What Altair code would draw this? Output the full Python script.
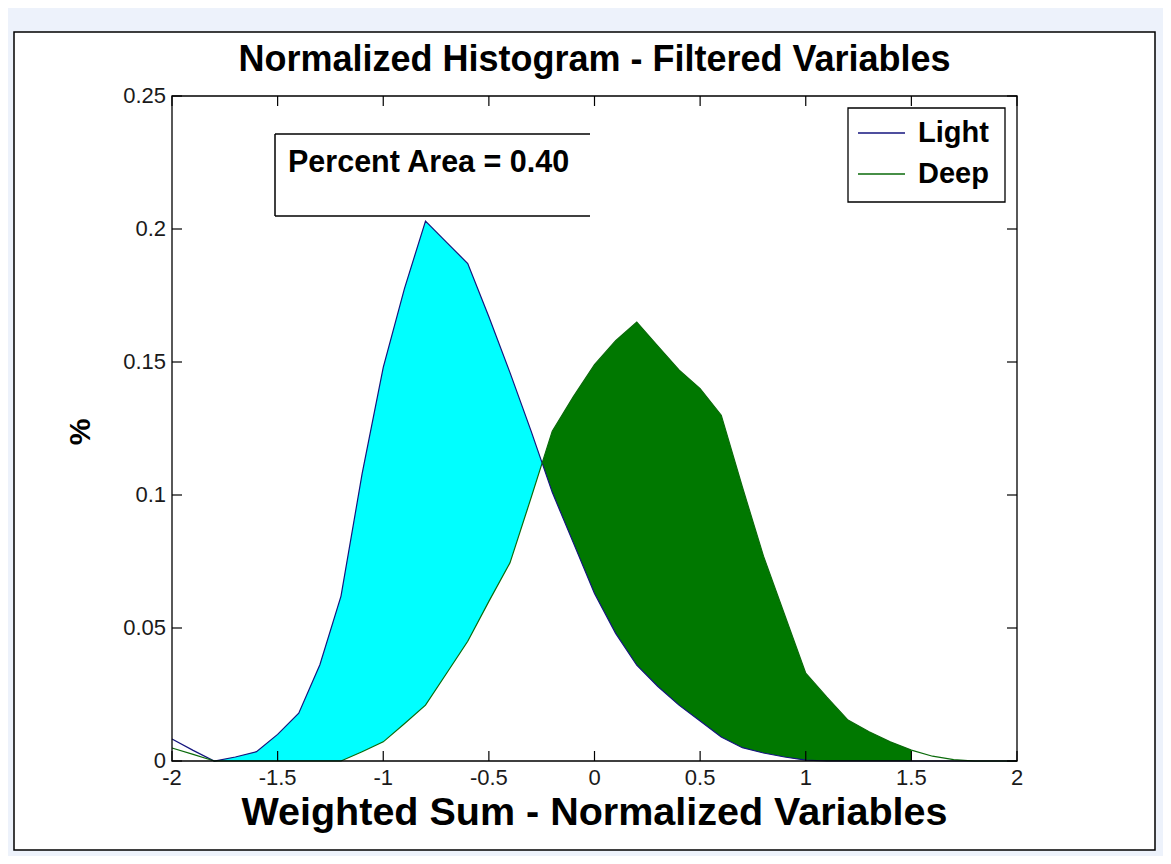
import altair as alt
import numpy as np
import pandas as pd

# ---------------- data ----------------
x_vals = [-2.0, -1.9, -1.8, -1.7, -1.6, -1.5, -1.4, -1.3, -1.2, -1.1,
          -1.0, -0.9, -0.8, -0.7, -0.6, -0.5, -0.4, -0.3, -0.2, -0.1,
          0.0, 0.1, 0.2, 0.3, 0.4, 0.5, 0.6, 0.7, 0.8, 0.9,
          1.0, 1.1, 1.2, 1.3, 1.4, 1.5, 1.6, 1.7, 1.8, 1.9, 2.0]
light_vals = [0.0083, 0.0040, 0.0000, 0.0015, 0.0035, 0.0100, 0.0180, 0.0362, 0.0620, 0.1080,
              0.1480, 0.1775, 0.2030, 0.1950, 0.1870, 0.1670, 0.1460, 0.1240, 0.1010, 0.0820,
              0.0630, 0.0480, 0.0360, 0.0280, 0.0210, 0.0150, 0.0090, 0.0050, 0.0030, 0.0015,
              0.0003, 0.0000, 0.0000, 0.0000, 0.0000, 0.0000, 0.0000, 0.0000, 0.0000, 0.0000, 0.0000]
deep_vals = [0.0049, 0.0025, 0.0000, 0.0000, 0.0000, 0.0000, 0.0000, 0.0000, 0.0000, 0.0035,
             0.0072, 0.0140, 0.0210, 0.0330, 0.0450, 0.0600, 0.0745, 0.0990, 0.1240, 0.1370,
             0.1490, 0.1580, 0.1650, 0.1560, 0.1470, 0.1400, 0.1300, 0.1030, 0.0770, 0.0550,
             0.0330, 0.0240, 0.0154, 0.0110, 0.0072, 0.0041, 0.0018, 0.0005, 0.0000, 0.0000, 0.0000]
series_names = ["Light", "Deep"]
x_ticks = [-2, -1.5, -1, -0.5, 0, 0.5, 1, 1.5, 2]
x_tick_labels = ["-2", "-1.5", "-1", "-0.5", "0", "0.5", "1", "1.5", "2"]
y_ticks = [0, 0.05, 0.1, 0.15, 0.2, 0.25]
y_tick_labels = ["0", "0.05", "0.1", "0.15", "0.2", "0.25"]
fill_range = [-1.8, 1.5]

title_text = "Normalized Histogram - Filtered Variables"
x_title = "Weighted Sum - Normalized Variables"
y_title = "%"
note_text = "Percent Area = 0.40"

# ---------------- styling ----------------
FONT = "Liberation Sans, Arial, Helvetica, sans-serif"
W, H = 845, 665
LIGHT_C = "#14147e"
DEEP_C = "#0a6a0a"
CYAN = "#00ffff"
GREEN = "#007800"
BG = "#edf2fb"

# ---------------- derived tables ----------------
n = len(x_vals)
line_df = pd.DataFrame({
    "x": x_vals * 2,
    "y": light_vals + deep_vals,
    "series": [series_names[0]] * n + [series_names[1]] * n,
})

xa = np.array(x_vals)
La = np.array(light_vals)
Da = np.array(deep_vals)
rows = []
for i in range(n):
    if fill_range[0] - 1e-9 <= xa[i] <= fill_range[1] + 1e-9:
        rows.append((xa[i], La[i], Da[i]))
        if i + 1 < n and xa[i + 1] <= fill_range[1] + 1e-9:
            d0 = La[i] - Da[i]
            d1 = La[i + 1] - Da[i + 1]
            if d0 * d1 < 0:
                t = d0 / (d0 - d1)
                xc = xa[i] + t * (xa[i + 1] - xa[i])
                yc = La[i] + t * (La[i + 1] - La[i])
                rows.append((xc, yc, yc))
fill_df = pd.DataFrame(rows, columns=["x", "light", "deep"])
fill_df["top"] = np.maximum(fill_df["light"], fill_df["deep"])

dummy = pd.DataFrame({"k": [0]})
xt_df = pd.DataFrame({"t": x_ticks, "lab": x_tick_labels})
yt_df = pd.DataFrame({"t": y_ticks, "lab": y_tick_labels})

xs = alt.Scale(domain=[-2, 2], nice=False, zero=False)
ys = alt.Scale(domain=[0, 0.25], nice=False, zero=False)

# ---------------- outer figure: light-blue margins + black frame ----------------
def band(x0, x1, y0, y1):
    return alt.Chart(dummy).mark_rect(fill=BG, strokeWidth=0).encode(
        x=alt.value(x0), x2=alt.value(x1), y=alt.value(y0), y2=alt.value(y1))

bands = [
    band(-170, 1000, -100, -64),   # top
    band(-170, 1000, 754, 780),    # bottom
    band(-170, -158, -100, 780),   # left
    band(983, 1000, -100, 780),    # right
]
frame = alt.Chart(dummy).mark_rect(fillOpacity=0, stroke="black", strokeWidth=1.5).encode(
    x=alt.value(-158), x2=alt.value(983), y=alt.value(-64), y2=alt.value(754))

# ---------------- data layers ----------------
cyan_area = alt.Chart(fill_df).mark_area(color=CYAN, opacity=1).encode(
    x=alt.X("x:Q", scale=xs, axis=None),
    y=alt.Y("deep:Q", scale=ys, axis=None),
    y2="top:Q")

green_area = alt.Chart(fill_df).mark_area(color=GREEN, opacity=1).encode(
    x=alt.X("x:Q", scale=xs, axis=None),
    y=alt.Y("light:Q", scale=ys, axis=None),
    y2="top:Q")

lines = alt.Chart(line_df).mark_line(strokeWidth=1.2).encode(
    x=alt.X("x:Q", scale=xs, axis=None),
    y=alt.Y("y:Q", scale=ys, axis=None),
    color=alt.Color("series:N", scale=alt.Scale(domain=series_names, range=[LIGHT_C, DEEP_C]), legend=None),
    order=alt.Order("x:Q"),
)

border = alt.Chart(dummy).mark_rect(fillOpacity=0, stroke="black", strokeWidth=1.3).encode(
    x=alt.value(0), x2=alt.value(W), y=alt.value(0), y2=alt.value(H))

# ---------------- ticks (inward, on all four sides) and tick labels ----------------
TL = 10
tick_bot = alt.Chart(xt_df).mark_rule(color="black", strokeWidth=1.2).encode(
    x=alt.X("t:Q", scale=xs, axis=None), y=alt.value(H), y2=alt.value(H - TL))
tick_top = alt.Chart(xt_df).mark_rule(color="black", strokeWidth=1.2).encode(
    x=alt.X("t:Q", scale=xs, axis=None), y=alt.value(0), y2=alt.value(TL))
tick_left = alt.Chart(yt_df).mark_rule(color="black", strokeWidth=1.2).encode(
    y=alt.Y("t:Q", scale=ys, axis=None), x=alt.value(0), x2=alt.value(TL))
tick_right = alt.Chart(yt_df).mark_rule(color="black", strokeWidth=1.2).encode(
    y=alt.Y("t:Q", scale=ys, axis=None), x=alt.value(W), x2=alt.value(W - TL))

x_labels = alt.Chart(xt_df).mark_text(
    align="center", baseline="middle", font=FONT, fontSize=22, color="#1a1a1a").encode(
    x=alt.X("t:Q", scale=xs, axis=None), y=alt.value(H + 17), text="lab:N")
y_labels = alt.Chart(yt_df).mark_text(
    align="right", baseline="middle", font=FONT, fontSize=22, color="#1a1a1a").encode(
    y=alt.Y("t:Q", scale=ys, axis=None), x=alt.value(-6), text="lab:N")

# ---------------- titles ----------------
main_title = alt.Chart(dummy).mark_text(
    text=title_text, align="center", baseline="middle", font=FONT, fontSize=36,
    fontWeight="bold", color="black").encode(x=alt.value(W / 2), y=alt.value(-36))
x_title_t = alt.Chart(dummy).mark_text(
    text=x_title, align="center", baseline="middle", font=FONT, fontSize=39.5,
    fontWeight="bold", color="black").encode(x=alt.value(W / 2), y=alt.value(717))
y_title_t = alt.Chart(dummy).mark_text(
    text=y_title, align="center", baseline="middle", font=FONT, fontSize=30,
    fontWeight="bold", color="black", angle=270).encode(x=alt.value(-91), y=alt.value(336))

# ---------------- annotation box (open on the right, as in the reference) ----------------
note_top = alt.Chart(dummy).mark_rule(color="black", strokeWidth=1.5).encode(
    x=alt.value(103), x2=alt.value(418), y=alt.value(38))
note_bot = alt.Chart(dummy).mark_rule(color="black", strokeWidth=1.5).encode(
    x=alt.value(103), x2=alt.value(418), y=alt.value(120))
note_left = alt.Chart(dummy).mark_rule(color="black", strokeWidth=1.5).encode(
    x=alt.value(103), y=alt.value(38), y2=alt.value(120))
note_txt = alt.Chart(dummy).mark_text(
    text=note_text, align="left", baseline="middle", font=FONT, fontSize=30.5,
    fontWeight="bold", color="black").encode(x=alt.value(116), y=alt.value(67))

# ---------------- legend ----------------
leg_box = alt.Chart(dummy).mark_rect(fill="white", stroke="black", strokeWidth=1.3).encode(
    x=alt.value(676), x2=alt.value(833), y=alt.value(12), y2=alt.value(106))
leg_l1 = alt.Chart(dummy).mark_rule(color=LIGHT_C, strokeWidth=1.4).encode(
    x=alt.value(686), x2=alt.value(733), y=alt.value(37))
leg_l2 = alt.Chart(dummy).mark_rule(color=DEEP_C, strokeWidth=1.4).encode(
    x=alt.value(686), x2=alt.value(733), y=alt.value(78))
leg_t1 = alt.Chart(dummy).mark_text(
    text=series_names[0], align="left", baseline="middle", font=FONT, fontSize=29,
    fontWeight="bold", color="black").encode(x=alt.value(746), y=alt.value(37))
leg_t2 = alt.Chart(dummy).mark_text(
    text=series_names[1], align="left", baseline="middle", font=FONT, fontSize=29,
    fontWeight="bold", color="black").encode(x=alt.value(746), y=alt.value(78))

chart = alt.layer(
    *bands, frame,
    cyan_area, green_area, lines, border,
    tick_bot, tick_top, tick_left, tick_right,
    x_labels, y_labels, main_title, x_title_t, y_title_t,
    note_top, note_bot, note_left, note_txt,
    leg_box, leg_l1, leg_l2, leg_t1, leg_t2,
).properties(
    width=W, height=H,
    padding={"left": 164, "top": 88, "right": 146, "bottom": 95},
    autosize=alt.AutoSizeParams(type="none"),
    background="white",
).configure_view(strokeWidth=0)

chart.save("out.html", embed_options={"renderer": "svg", "actions": False})
